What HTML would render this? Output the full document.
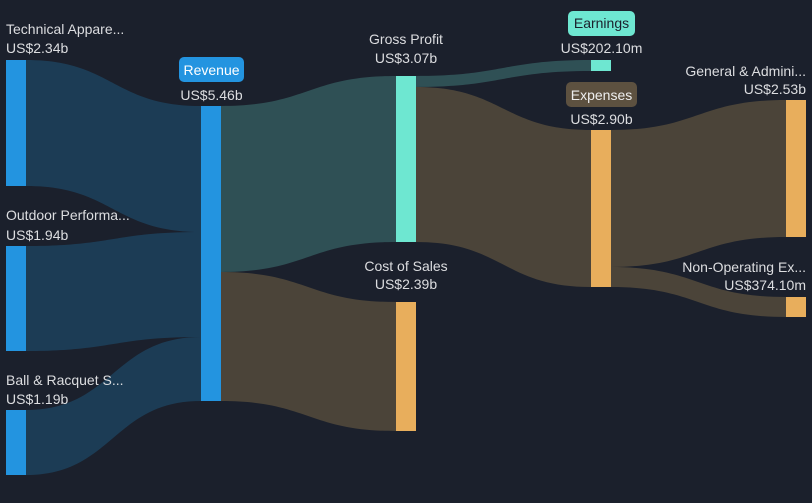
<!DOCTYPE html>
<html><head><style>
html,body{margin:0;padding:0;background:#1b202c;}
svg{display:block;}
text{font-family:"Liberation Sans",sans-serif;font-size:14px;fill:#dcdde0;}
</style></head><body>
<svg width="812" height="503" viewBox="0 0 812 503">
<rect width="812" height="503" fill="#1b202c"/>
<!-- links -->
<g>
<path d="M26,60 C113,60 113,106 201,106 L201,232 C113,232 113,186 26,186 Z" fill="#1c3c55"/>
<path d="M26,246 C113,246 113,232 201,232 L201,337 C113,337 113,351 26,351 Z" fill="#1c3c55"/>
<path d="M26,410 C113,410 113,337 201,337 L201,401 C113,401 113,475 26,475 Z" fill="#1c3c55"/>
<path d="M221,106 C308,106 308,76 396,76 L396,242 C308,242 308,272 221,272 Z" fill="#2f5055"/>
<path d="M221,272 C308,272 308,302 396,302 L396,431 C308,431 308,401 221,401 Z" fill="#4b4439"/>
<path d="M416,76 C503,76 503,60 591,60 L591,71 C503,71 503,87 416,87 Z" fill="#2f5055"/>
<path d="M416,87 C503,87 503,130 591,130 L591,287 C503,287 503,242 416,242 Z" fill="#4b4439"/>
<path d="M611,130 C698,130 698,100 786,100 L786,237 C698,237 698,267 611,267 Z" fill="#4b4439"/>
<path d="M611,267 C698,267 698,297 786,297 L786,317 C698,317 698,287 611,287 Z" fill="#4b4439"/>
</g>
<!-- nodes -->
<rect x="6" y="60" width="20" height="126" fill="#2394e0"/>
<rect x="6" y="246" width="20" height="105" fill="#2394e0"/>
<rect x="6" y="410" width="20" height="65" fill="#2394e0"/>
<rect x="201" y="106" width="20" height="295" fill="#2394e0"/>
<rect x="396" y="76" width="20" height="166" fill="#6ee7d1"/>
<rect x="396" y="302" width="20" height="129" fill="#e8ae5c"/>
<rect x="591" y="60" width="20" height="11" fill="#6ee7d1"/>
<rect x="591" y="130" width="20" height="157" fill="#e8ae5c"/>
<rect x="786" y="100" width="20" height="137" fill="#e8ae5c"/>
<rect x="786" y="297" width="20" height="20" fill="#e8ae5c"/>
<!-- labels -->
<text x="6" y="34">Technical Appare...</text>
<text x="6" y="53">US$2.34b</text>
<text x="6" y="220">Outdoor Performa...</text>
<text x="6" y="240">US$1.94b</text>
<text x="6" y="385">Ball &amp; Racquet S...</text>
<text x="6" y="404">US$1.19b</text>
<rect x="179" y="57" width="65" height="25" rx="5" fill="#2394e0"/>
<text x="211.5" y="75" text-anchor="middle" fill="#ffffff" style="fill:#fff">Revenue</text>
<text x="211.5" y="100" text-anchor="middle">US$5.46b</text>
<text x="406" y="44" text-anchor="middle">Gross Profit</text>
<text x="406" y="63" text-anchor="middle">US$3.07b</text>
<text x="406" y="271" text-anchor="middle">Cost of Sales</text>
<text x="406" y="289" text-anchor="middle">US$2.39b</text>
<rect x="568" y="11" width="67" height="25" rx="5" fill="#6ee7d1"/>
<text x="601.5" y="28" text-anchor="middle" style="fill:#1b202c">Earnings</text>
<text x="601.5" y="53" text-anchor="middle">US$202.10m</text>
<rect x="566" y="82" width="71" height="25" rx="5" fill="#5d5140"/>
<text x="601.5" y="100" text-anchor="middle" style="fill:#eee">Expenses</text>
<text x="601.5" y="124" text-anchor="middle">US$2.90b</text>
<text x="806" y="76" text-anchor="end">General &amp; Admini...</text>
<text x="806" y="94" text-anchor="end">US$2.53b</text>
<text x="806" y="272" text-anchor="end">Non-Operating Ex...</text>
<text x="806" y="290" text-anchor="end">US$374.10m</text>
</svg>
</body></html>
